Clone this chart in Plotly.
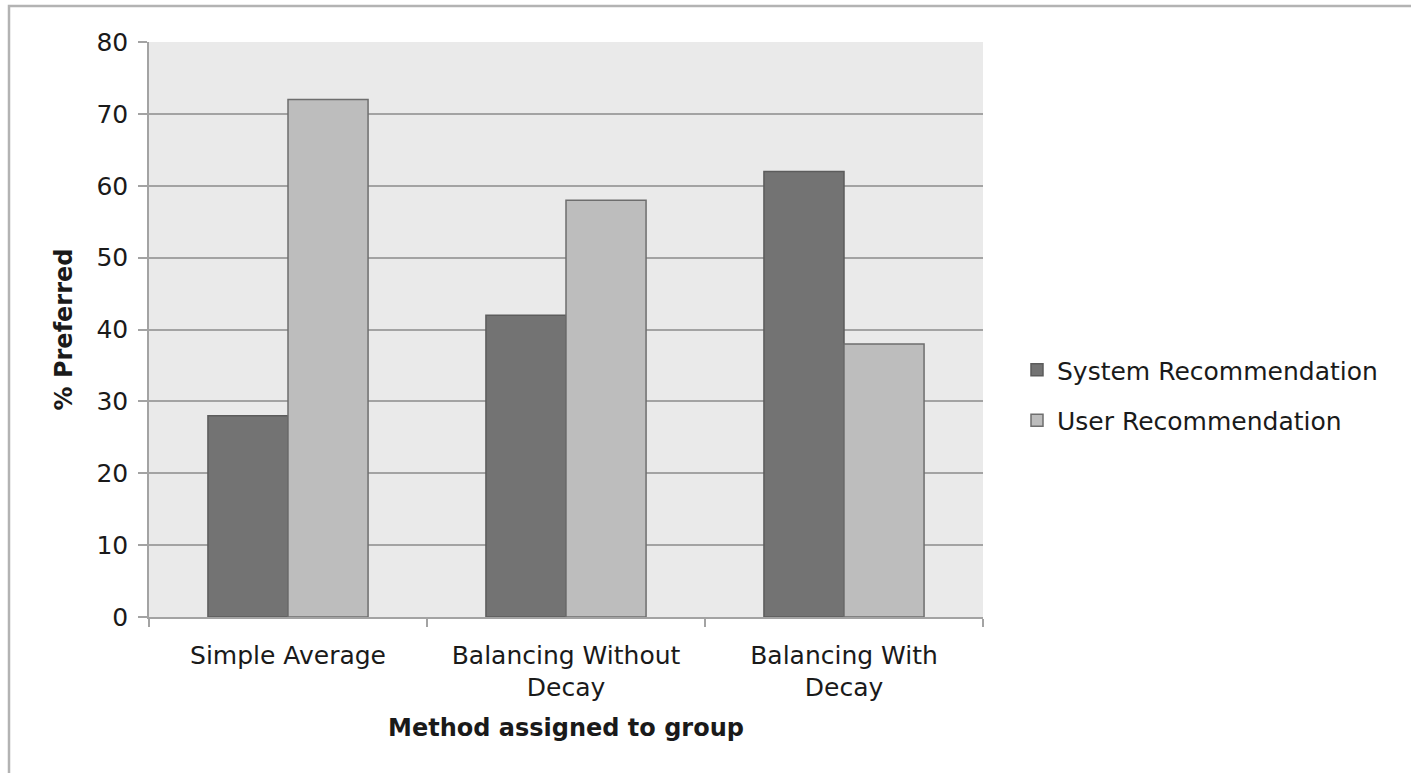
import plotly.graph_objects as go

# Share of groups preferring each recommendation, per balancing method
methods = ["Simple Average", "Balancing Without<br>Decay", "Balancing With<br>Decay"]
system_pct = [28, 42, 62]
user_pct = [72, 58, 38]
y_ticks = [0, 10, 20, 30, 40, 50, 60, 70, 80]

FONT = "DejaVu Sans"
GRID = "#a3a3a3"
TEXT = "#1a1a1a"

fig = go.Figure()
fig.add_trace(go.Bar(
    name="System Recommendation", x=methods, y=system_pct,
    marker=dict(color="#737373", line=dict(color="#5c5c5c", width=1.5)),
    legendgroup="sys",
))
fig.add_trace(go.Bar(
    name="User Recommendation", x=methods, y=user_pct,
    marker=dict(color="#bdbdbd", line=dict(color="#6e6e6e", width=1.5)),
    legendgroup="usr",
))

# Frame around the whole chart (runs off the bottom/right edge)
L, R, T, B = 149, 983, 42, 617
pw, ph = R - L, B - T
fig.add_shape(
    type="rect", xref="paper", yref="paper",
    x0=(9 - L) / pw, x1=2.0, y0=-1.0, y1=(B - 6) / ph,
    line=dict(color="#b3b3b3", width=2.5), fillcolor="rgba(0,0,0,0)",
    layer="below",
)

fig.update_layout(
    width=1411, height=773,
    margin=dict(l=L, r=1411 - R, t=T, b=773 - B, autoexpand=False),
    paper_bgcolor="white", plot_bgcolor="#eaeaea",
    barmode="group", bargap=0.424, bargroupgap=0,
    font=dict(family=FONT, size=25, color=TEXT),
    legend=dict(
        x=(1017 - L) / pw, xanchor="left",
        y=(B - 395) / ph, yanchor="middle",
        font=dict(family=FONT, size=25, color=TEXT),
        traceorder="grouped", tracegroupgap=15,
        itemwidth=30, bgcolor="rgba(0,0,0,0)",
    ),
    xaxis=dict(
        showline=True, linecolor=GRID, linewidth=1.5,
        ticks="outside", tickson="boundaries", ticklen=8,
        tickcolor=GRID, tickwidth=1.5,
        ticklabelstandoff=15,
        tickfont=dict(family=FONT, size=25, color=TEXT),
        title=dict(text="<b>Method assigned to group</b>",
                   font=dict(family=FONT, size=24, color=TEXT), standoff=18),
        automargin=False,
    ),
    yaxis=dict(
        range=[0, 80], tickvals=y_ticks,
        showline=True, linecolor=GRID, linewidth=1.5,
        showgrid=True, gridcolor=GRID, gridwidth=1.5,
        zeroline=False,
        ticks="outside", ticklen=9, tickcolor=GRID, tickwidth=1.5,
        ticklabelstandoff=5,
        tickfont=dict(family=FONT, size=25, color=TEXT),
        title=dict(text="<b>% Preferred</b>",
                   font=dict(family=FONT, size=24, color=TEXT), standoff=17),
        automargin=False,
    ),
)

fig.write_html("out.html")
